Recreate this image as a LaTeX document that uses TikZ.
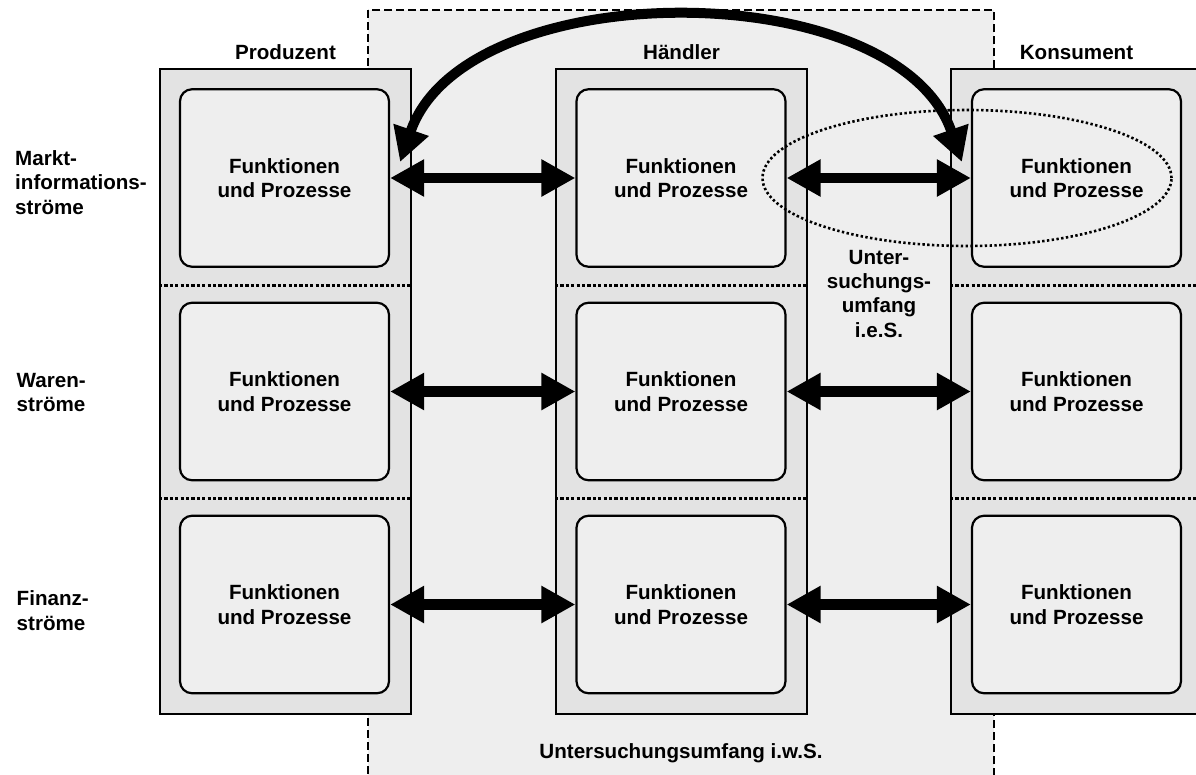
\documentclass[tikz,border=0pt]{standalone}
\usepackage{fontspec}
\setmainfont{Liberation Sans}
\usetikzlibrary{arrows.meta,shapes.geometric,calc}

\definecolor{colfill}{HTML}{E3E3E3}
\definecolor{boxfill}{HTML}{EEEEEE}
\definecolor{zonefill}{HTML}{EEEEEE}

\begin{document}
\begin{tikzpicture}[x=1pt,y=-1pt,
  lbl/.style={font=\fontsize{20.6}{24.3}\selectfont\bfseries, inner sep=0pt},
  column/.style={draw=black, line width=2pt, fill=colfill,
    minimum width=251pt, minimum height=645pt, inner sep=0pt},
  funcbox/.style={lbl, draw=black, line width=2.2pt, fill=boxfill,
    rounded corners=12pt, minimum width=209pt, minimum height=177.5pt, align=center},
  sepline/.style={line width=3pt, dash pattern=on 3.2pt off 2.2pt},
  zone/.style={draw=black, line width=1.5pt, dash pattern=on 8pt off 4pt, fill=zonefill},
  scopering/.style={draw=black, line width=2.6pt, dash pattern=on 2.4pt off 2.4pt,
    ellipse, inner sep=0pt, minimum width=409pt, minimum height=136pt},
  flow/.style={line width=10.7pt,
    {Triangle[length=34pt,width=35pt]}-{Triangle[length=34pt,width=35pt]}}
]
\path[use as bounding box, clip] (0,0) rectangle (1196,774);

% scope in the wider sense
\draw[zone] (368,10) rectangle (994,800);

% actor columns
\foreach \c/\x in {P/285.5, H/681.5, K/1076.5}
  \node[column] (col\c) at (\x,391.5) {};

% row separators
\foreach \c in {P,H,K} {
  \draw[sepline] (col\c.west |- 0,285) -- (col\c.east |- 0,285);
  \draw[sepline] (col\c.west |- 0,498) -- (col\c.east |- 0,498);
}

% functions and processes
\foreach \c/\ix in {P/284.5, H/681, K/1076.5}
  \foreach \r/\y in {1/178, 2/391.5, 3/604.5}
    \node[funcbox] (\c\r) at (\ix,\y) {Funktionen\\und Prozesse};

% flows between the actors
\foreach \r in {1,2,3} {
  \draw[flow] (P\r.east) -- (H\r.west);
  \draw[flow] (H\r.east) -- (K\r.west);
}

% scope in the narrower sense
\node[scopering] (ies) at (967,178) {};

% direct information flow producer <-> consumer
\coordinate (cl) at ($(P1.east)+(10,-16)$);
\coordinate (cr) at ($(K1.west)+(-9,-16)$);
\draw[flow, line width=10pt] (cl) .. controls +(65,-189) and +(-65,-189) .. (cr);

% column titles
\node[lbl, anchor=base] (tP) at (285.5,59) {Produzent};
\node[lbl, anchor=base] (tH) at (681.5,59) {Händler};
\node[lbl, anchor=base] (tK) at (1076.5,59) {Konsument};

% row titles
\node[lbl, anchor=west, align=left] (r1) at (15,182.6) {Markt-\\informations-\\ströme};
\node[lbl, anchor=west, align=left] (r2) at (16.5,392.6) {Waren-\\ströme};
\node[lbl, anchor=west, align=left] (r3) at (16.5,610.6) {Finanz-\\ströme};

% scope labels
\node[lbl, align=center] (lies) at (879,293.6) {Unter-\\suchungs-\\umfang\\i.e.S.};
\node[lbl, anchor=base] (liws) at (681,758) {Untersuchungsumfang i.w.S.};
\end{tikzpicture}
\end{document}
